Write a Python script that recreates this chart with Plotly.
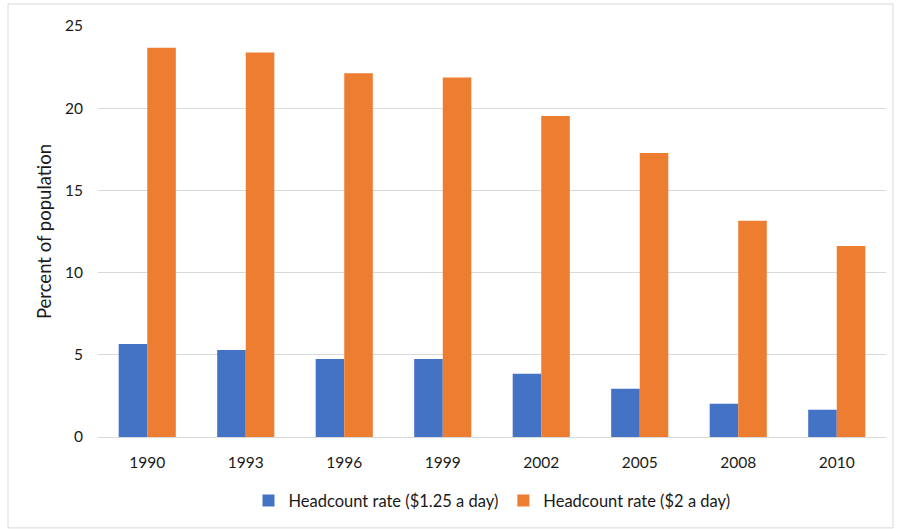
import plotly.graph_objects as go

years = ["1990", "1993", "1996", "1999", "2002", "2005", "2008", "2010"]
rate_125 = [5.65, 5.29, 4.74, 4.74, 3.85, 2.93, 2.02, 1.66]
rate_2 = [23.67, 23.39, 22.13, 21.87, 19.52, 17.27, 13.16, 11.62]
series_names = ["Headcount rate ($1.25 a day)", "Headcount rate ($2 a day)"]
y_ticks = [0, 5, 10, 15, 20, 25]

FONT = "Lato, Carlito, Calibri, sans-serif"
TXT = "#1a1a1a"

fig = go.Figure()
fig.add_trace(go.Bar(x=years, y=rate_125, name=series_names[0],
                     marker=dict(color="#4472c4", line=dict(width=0))))
fig.add_trace(go.Bar(x=years, y=rate_2, name=series_names[1],
                     marker=dict(color="#ed7d31", line=dict(width=0))))

fig.update_layout(
    width=897, height=529,
    margin=dict(l=98, r=11, t=26, b=92),
    paper_bgcolor="white", plot_bgcolor="white",
    barmode="group", bargap=0.42, bargroupgap=0,
    font=dict(family=FONT, size=15.5, color=TXT),
    showlegend=True,
    legend=dict(orientation="h", x=0.5, xanchor="center", y=-0.155, yanchor="middle",
                font=dict(size=16.5, color=TXT), itemwidth=30, traceorder="normal"),
    xaxis=dict(showgrid=False, showline=False, ticks="", ticklabelstandoff=14,
               tickfont=dict(size=15.5, color=TXT)),
    yaxis=dict(range=[0, 25], tickvals=y_ticks, showgrid=True, gridcolor="#d9d9d9",
               gridwidth=1, zeroline=True, zerolinecolor="#d9d9d9", zerolinewidth=1,
               showline=False, ticks="", ticklabelstandoff=14,
               tickfont=dict(size=15.5, color=TXT),
               title=dict(text="Percent of population", standoff=8,
                          font=dict(size=18.5, color=TXT))),
)

# outer chart border
fig.add_shape(type="rect", xref="paper", yref="paper",
              x0=(8 - 98) / 788, x1=(893 - 98) / 788,
              y0=-(528 - 437) / 411.6, y1=1 + (26 - 4) / 411.6,
              line=dict(color="#d9d9d9", width=1), fillcolor="rgba(0,0,0,0)", layer="below")

fig.write_html("out.html")
